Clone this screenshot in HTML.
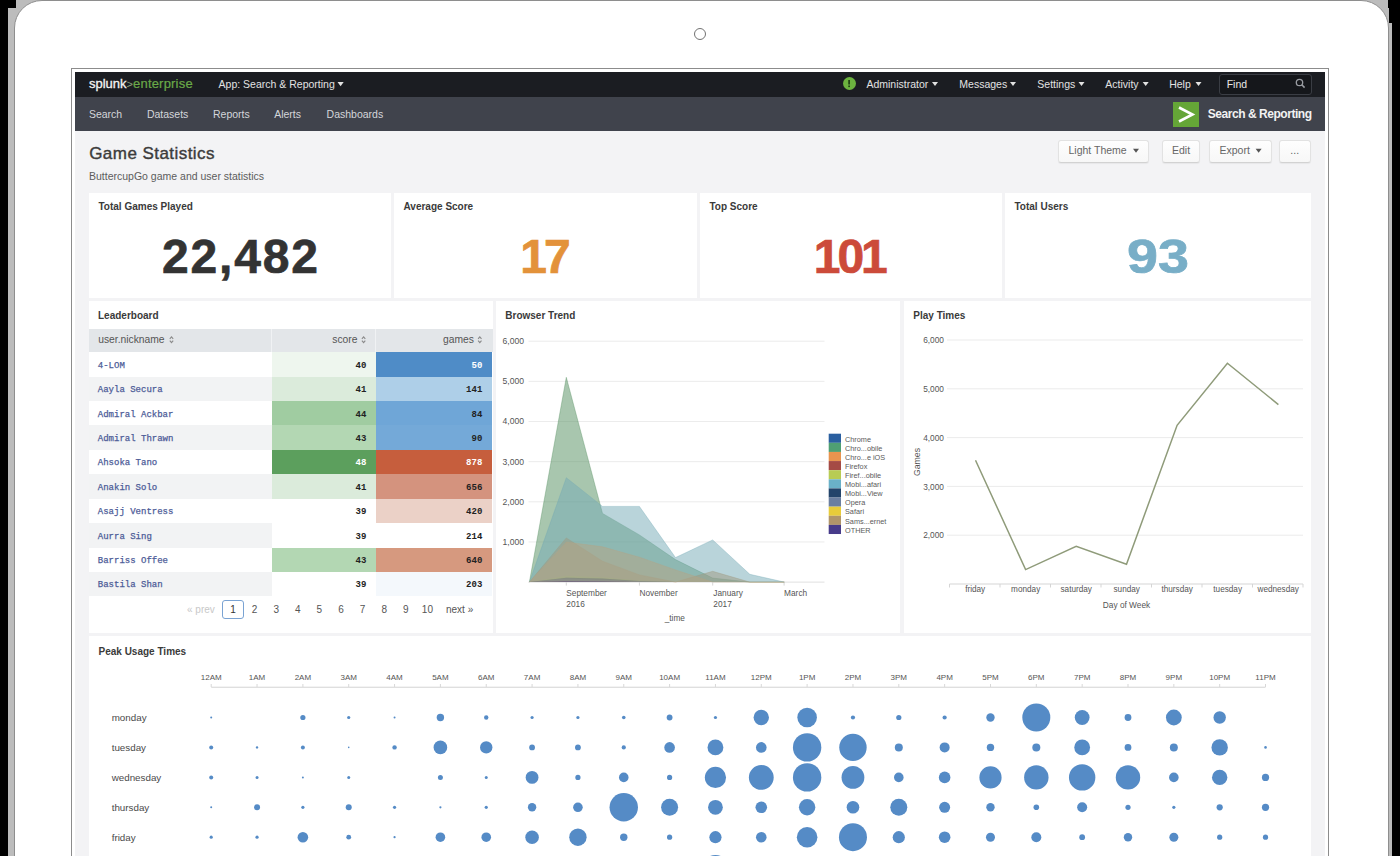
<!DOCTYPE html><html><head><meta charset="utf-8"><style>
html,body{margin:0;padding:0;}
body{width:1400px;height:856px;overflow:hidden;background:#000;position:relative;font-family:"Liberation Sans",sans-serif;}
.t{position:absolute;white-space:nowrap;}
.r{position:absolute;box-sizing:border-box;}
svg{position:absolute;left:0;top:0;overflow:visible;}
</style></head><body>
<div class="r" style="left:8px;top:8px;width:1384px;height:848px;background:#bcbcbc;"></div>
<div class="r" style="left:16px;top:0px;width:1372px;height:8px;background:#bcbcbc;"></div>
<div class="r" style="left:1388.5px;top:0px;width:3.5px;height:23px;background:#000;"></div>
<div class="r" style="left:13.5px;top:0px;width:1375px;height:900px;border:1.5px solid #8e8e8e;border-radius:28px;background:#fff;"></div>
<div class="r" style="left:694px;top:28px;width:12px;height:12px;border:1.5px solid #727272;border-radius:50%;"></div>
<div class="r" style="left:71px;top:68px;width:1258px;height:900px;border:1px solid #8c8c8c;background:#fff;"></div>
<div class="r" style="left:75px;top:72px;width:1250px;height:784px;background:#f3f3f5;"></div>
<div class="r" style="left:75px;top:72px;width:1250px;height:25px;background:#1b1d22;"></div>
<div class="r" style="left:75px;top:97px;width:1250px;height:34px;background:#40434c;"></div>
<div class="t" id="logo" style="top:77.00px;font-size:13px;line-height:13px;color:#333;font-weight:normal;left:89.00px;"><span style="color:#f4f4f4;-webkit-text-stroke:0.3px #f4f4f4">splunk</span><span style="color:#8aa27c;font-size:11px">&gt;</span><span style="color:#6aaa48;-webkit-text-stroke:0.2px #6aaa48;letter-spacing:0.2px">enterprise</span></div>
<div class="t" id="app" style="top:78.61px;font-size:10.5px;line-height:10.5px;color:#e2e2e2;font-weight:normal;left:218.60px;">App: Search &amp; Reporting</div>
<svg width="1" height="1"><path d="M337.5 82L343.7 82L340.6 86.2Z" fill="#e2e2e2"/></svg>
<div class="r" style="left:842.5px;top:77px;width:13px;height:13px;border-radius:50%;background:#6cb33f;"></div>
<svg><rect x="848.3" y="80" width="1.6" height="4.5" fill="#1b3a10"/><rect x="848.3" y="85.5" width="1.6" height="1.6" fill="#1b3a10"/></svg>
<div class="t" id="m_Administrator" style="top:78.61px;font-size:10.5px;line-height:10.5px;color:#e2e2e2;font-weight:normal;left:866.40px;">Administrator</div>
<svg width="1" height="1"><path d="M932 82L938 82L935.0 86Z" fill="#e2e2e2"/></svg>
<div class="t" id="m_Messages" style="top:78.61px;font-size:10.5px;line-height:10.5px;color:#e2e2e2;font-weight:normal;left:959.30px;">Messages</div>
<svg width="1" height="1"><path d="M1010 82L1016 82L1013.0 86Z" fill="#e2e2e2"/></svg>
<div class="t" id="m_Settings" style="top:78.61px;font-size:10.5px;line-height:10.5px;color:#e2e2e2;font-weight:normal;left:1037.30px;">Settings</div>
<svg width="1" height="1"><path d="M1078.5 82L1084.5 82L1081.5 86Z" fill="#e2e2e2"/></svg>
<div class="t" id="m_Activity" style="top:78.61px;font-size:10.5px;line-height:10.5px;color:#e2e2e2;font-weight:normal;left:1105.30px;">Activity</div>
<svg width="1" height="1"><path d="M1142.7 82L1148.7 82L1145.7 86Z" fill="#e2e2e2"/></svg>
<div class="t" id="m_Help" style="top:78.61px;font-size:10.5px;line-height:10.5px;color:#e2e2e2;font-weight:normal;left:1169.20px;">Help</div>
<svg width="1" height="1"><path d="M1195.5 82L1201.5 82L1198.5 86Z" fill="#e2e2e2"/></svg>
<div class="r" style="left:1219px;top:74px;width:92.5px;height:21px;border:1px solid #3a3d44;border-radius:3px;background:#15171b;"></div>
<div class="t" id="find" style="top:78.61px;font-size:10.5px;line-height:10.5px;color:#e8e8e8;font-weight:normal;left:1226.70px;">Find</div>
<svg><circle cx="1299.5" cy="82.5" r="3.2" fill="none" stroke="#9a9da3" stroke-width="1.3"/><path d="M1301.8 84.8L1304.6 87.6" stroke="#9a9da3" stroke-width="1.5"/></svg>
<div class="t" id="n_Search" style="top:108.81px;font-size:10.5px;line-height:10.5px;color:#d4d6da;font-weight:normal;left:88.90px;">Search</div>
<div class="t" id="n_Datasets" style="top:108.81px;font-size:10.5px;line-height:10.5px;color:#d4d6da;font-weight:normal;left:146.90px;">Datasets</div>
<div class="t" id="n_Reports" style="top:108.81px;font-size:10.5px;line-height:10.5px;color:#d4d6da;font-weight:normal;left:213.00px;">Reports</div>
<div class="t" id="n_Alerts" style="top:108.81px;font-size:10.5px;line-height:10.5px;color:#d4d6da;font-weight:normal;left:274.20px;">Alerts</div>
<div class="t" id="n_Dashboards" style="top:108.81px;font-size:10.5px;line-height:10.5px;color:#d4d6da;font-weight:normal;left:326.60px;">Dashboards</div>
<div class="r" style="left:1173px;top:102px;width:26px;height:25px;background:#65a637;"></div>
<svg><path d="M1179 107.5L1192.5 114.5L1179 121.5" fill="none" stroke="#fff" stroke-width="2.6"/></svg>
<div class="t" id="sr" style="top:108.14px;font-size:12px;line-height:12px;color:#f2f2f2;font-weight:bold;left:1207.70px;letter-spacing:-0.45px;">Search &amp; Reporting</div>
<div class="t" id="title" style="top:144.91px;font-size:17px;line-height:17px;color:#3c3c3c;font-weight:normal;left:89.20px;-webkit-text-stroke:0.4px #3c3c3c;letter-spacing:0.45px;">Game Statistics</div>
<div class="t" id="sub" style="top:171.11px;font-size:10.5px;line-height:10.5px;color:#5c5c5c;font-weight:normal;left:89.00px;">ButtercupGo game and user statistics</div>
<div class="r" style="left:1058px;top:140px;width:91px;height:22.5px;border:1px solid #e2e2e2;border-bottom-color:#d2d2d2;border-radius:3px;background:linear-gradient(#fefefe,#f7f7f7);box-shadow:0 1px 1px rgba(0,0,0,0.05);"></div>
<div class="t" id="b_LightTheme" style="top:144.91px;font-size:10.5px;line-height:10.5px;color:#666;font-weight:normal;left:1068.50px;">Light Theme</div>
<svg width="1" height="1"><path d="M1133 148.8L1139 148.8L1136.0 152.8Z" fill="#555"/></svg>
<div class="r" style="left:1162px;top:140px;width:38px;height:22.5px;border:1px solid #e2e2e2;border-bottom-color:#d2d2d2;border-radius:3px;background:linear-gradient(#fefefe,#f7f7f7);box-shadow:0 1px 1px rgba(0,0,0,0.05);"></div>
<div class="t" id="b_Edit" style="top:144.91px;font-size:10.5px;line-height:10.5px;color:#666;font-weight:normal;left:1181.00px;transform:translateX(-50%);">Edit</div>
<div class="r" style="left:1209px;top:140px;width:62.59999999999991px;height:22.5px;border:1px solid #e2e2e2;border-bottom-color:#d2d2d2;border-radius:3px;background:linear-gradient(#fefefe,#f7f7f7);box-shadow:0 1px 1px rgba(0,0,0,0.05);"></div>
<div class="t" id="b_Export" style="top:144.91px;font-size:10.5px;line-height:10.5px;color:#666;font-weight:normal;left:1219.50px;">Export</div>
<svg width="1" height="1"><path d="M1255.6 148.8L1261.6 148.8L1258.6 152.8Z" fill="#555"/></svg>
<div class="r" style="left:1279px;top:140px;width:31.5px;height:22.5px;border:1px solid #e2e2e2;border-bottom-color:#d2d2d2;border-radius:3px;background:linear-gradient(#fefefe,#f7f7f7);box-shadow:0 1px 1px rgba(0,0,0,0.05);"></div>
<div class="t" id="b_" style="top:144.91px;font-size:10.5px;line-height:10.5px;color:#666;font-weight:normal;left:1294.75px;transform:translateX(-50%);">...</div>
<div class="r" style="left:89px;top:193px;width:302px;height:105px;background:#fff;"></div>
<div class="t" id="sv_TotalGamesPlayed" style="top:202.03px;font-size:10px;line-height:10px;color:#3a3a3a;font-weight:bold;left:98.50px;">Total Games Played</div>
<div class="t" id="svv_TotalGamesPlayed" style="top:233.37px;font-size:48px;line-height:48px;color:#333333;font-weight:bold;left:240.00px;transform:translateX(-50%);letter-spacing:1.8px;text-indent:1.8px;-webkit-text-stroke:0.7px #333333;">22,482</div>
<div class="r" style="left:394px;top:193px;width:303px;height:105px;background:#fff;"></div>
<div class="t" id="sv_AverageScore" style="top:202.03px;font-size:10px;line-height:10px;color:#3a3a3a;font-weight:bold;left:403.50px;">Average Score</div>
<div class="t" id="svv_AverageScore" style="top:233.37px;font-size:48px;line-height:48px;color:#e3923a;font-weight:bold;left:545.50px;transform:translateX(-50%);letter-spacing:-3px;text-indent:-3px;-webkit-text-stroke:0.7px #e3923a;">17</div>
<div class="r" style="left:700px;top:193px;width:301.5px;height:105px;background:#fff;"></div>
<div class="t" id="sv_TopScore" style="top:202.03px;font-size:10px;line-height:10px;color:#3a3a3a;font-weight:bold;left:709.50px;">Top Score</div>
<div class="t" id="svv_TopScore" style="top:233.37px;font-size:48px;line-height:48px;color:#cc4b3a;font-weight:bold;left:850.75px;transform:translateX(-50%);letter-spacing:-3px;text-indent:-3px;-webkit-text-stroke:0.7px #cc4b3a;">101</div>
<div class="r" style="left:1005px;top:193px;width:306px;height:105px;background:#fff;"></div>
<div class="t" id="sv_TotalUsers" style="top:202.03px;font-size:10px;line-height:10px;color:#3a3a3a;font-weight:bold;left:1014.50px;">Total Users</div>
<div class="t" id="svv_TotalUsers" style="top:233.37px;font-size:48px;line-height:48px;color:#78aec7;font-weight:bold;left:1158.00px;transform:translateX(-50%);letter-spacing:0px;text-indent:0px;-webkit-text-stroke:0.7px #78aec7;transform:translateX(-50%) scaleX(1.16);">93</div>
<div class="r" style="left:89px;top:300.5px;width:404px;height:332.5px;background:#fff;"></div>
<div class="t" id="lb_title" style="top:310.54px;font-size:10px;line-height:10px;color:#3a3a3a;font-weight:bold;left:98.00px;">Leaderboard</div>
<div class="r" style="left:89px;top:328.5px;width:403.5px;height:23.69999999999999px;background:#e3e6e9;"></div>
<div class="r" style="left:271px;top:328.5px;width:1px;height:23.69999999999999px;background:#f0f2f4;"></div>
<div class="r" style="left:375px;top:328.5px;width:1px;height:23.69999999999999px;background:#f0f2f4;"></div>
<div class="t" id="th1" style="top:334.58px;font-size:10.3px;line-height:10.3px;color:#555;font-weight:normal;left:98.20px;">user.nickname</div>
<svg><path d="M169.8 338.8L171.5 336.8L173.2 338.8M169.8 340.59999999999997L171.5 342.59999999999997L173.2 340.59999999999997" fill="none" stroke="#8a8a8a" stroke-width="1.1"/></svg>
<div class="t" id="th2" style="top:334.58px;font-size:10.3px;line-height:10.3px;color:#555;font-weight:normal;right:1042.50px;">score</div>
<svg><path d="M361.90000000000003 338.8L363.6 336.8L365.3 338.8M361.90000000000003 340.59999999999997L363.6 342.59999999999997L365.3 340.59999999999997" fill="none" stroke="#8a8a8a" stroke-width="1.1"/></svg>
<div class="t" id="th3" style="top:334.58px;font-size:10.3px;line-height:10.3px;color:#555;font-weight:normal;right:926.00px;">games</div>
<svg><path d="M478.1 338.8L479.8 336.8L481.5 338.8M478.1 340.59999999999997L479.8 342.59999999999997L481.5 340.59999999999997" fill="none" stroke="#8a8a8a" stroke-width="1.1"/></svg>
<div class="r" style="left:89px;top:352.2px;width:182.5px;height:24.420000000000016px;background:#ffffff;"></div>
<div class="r" style="left:271.5px;top:352.2px;width:104.0px;height:24.420000000000016px;background:#eef6ee;"></div>
<div class="r" style="left:375.5px;top:352.2px;width:116.5px;height:24.420000000000016px;background:#4f8cc7;"></div>
<div class="t" id="nm0" style="top:361.70px;font-size:9px;line-height:9px;color:#4d5c98;font-weight:normal;font-family:'Liberation Mono', monospace;left:97.80px;-webkit-text-stroke:0.25px #4d5c98;">4-LOM</div>
<div class="t" id="sc0" style="top:361.70px;font-size:9px;line-height:9px;color:#222;font-weight:bold;font-family:'Liberation Mono', monospace;right:1033.70px;">40</div>
<div class="t" id="gm0" style="top:361.70px;font-size:9px;line-height:9px;color:#fff;font-weight:bold;font-family:'Liberation Mono', monospace;right:917.70px;">50</div>
<div class="r" style="left:89px;top:376.62px;width:182.5px;height:24.420000000000016px;background:#f2f3f4;"></div>
<div class="r" style="left:271.5px;top:376.62px;width:104.0px;height:24.420000000000016px;background:#dbebdb;"></div>
<div class="r" style="left:375.5px;top:376.62px;width:116.5px;height:24.420000000000016px;background:#aecfe8;"></div>
<div class="t" id="nm1" style="top:386.12px;font-size:9px;line-height:9px;color:#4d5c98;font-weight:normal;font-family:'Liberation Mono', monospace;left:97.80px;-webkit-text-stroke:0.25px #4d5c98;">Aayla Secura</div>
<div class="t" id="sc1" style="top:386.12px;font-size:9px;line-height:9px;color:#222;font-weight:bold;font-family:'Liberation Mono', monospace;right:1033.70px;">41</div>
<div class="t" id="gm1" style="top:386.12px;font-size:9px;line-height:9px;color:#222;font-weight:bold;font-family:'Liberation Mono', monospace;right:917.70px;">141</div>
<div class="r" style="left:89px;top:401.03999999999996px;width:182.5px;height:24.420000000000016px;background:#ffffff;"></div>
<div class="r" style="left:271.5px;top:401.03999999999996px;width:104.0px;height:24.420000000000016px;background:#a0cca1;"></div>
<div class="r" style="left:375.5px;top:401.03999999999996px;width:116.5px;height:24.420000000000016px;background:#6fa6d7;"></div>
<div class="t" id="nm2" style="top:410.54px;font-size:9px;line-height:9px;color:#4d5c98;font-weight:normal;font-family:'Liberation Mono', monospace;left:97.80px;-webkit-text-stroke:0.25px #4d5c98;">Admiral Ackbar</div>
<div class="t" id="sc2" style="top:410.54px;font-size:9px;line-height:9px;color:#222;font-weight:bold;font-family:'Liberation Mono', monospace;right:1033.70px;">44</div>
<div class="t" id="gm2" style="top:410.54px;font-size:9px;line-height:9px;color:#222;font-weight:bold;font-family:'Liberation Mono', monospace;right:917.70px;">84</div>
<div class="r" style="left:89px;top:425.46px;width:182.5px;height:24.420000000000016px;background:#f2f3f4;"></div>
<div class="r" style="left:271.5px;top:425.46px;width:104.0px;height:24.420000000000016px;background:#b3d7b3;"></div>
<div class="r" style="left:375.5px;top:425.46px;width:116.5px;height:24.420000000000016px;background:#74a9d8;"></div>
<div class="t" id="nm3" style="top:434.96px;font-size:9px;line-height:9px;color:#4d5c98;font-weight:normal;font-family:'Liberation Mono', monospace;left:97.80px;-webkit-text-stroke:0.25px #4d5c98;">Admiral Thrawn</div>
<div class="t" id="sc3" style="top:434.96px;font-size:9px;line-height:9px;color:#222;font-weight:bold;font-family:'Liberation Mono', monospace;right:1033.70px;">43</div>
<div class="t" id="gm3" style="top:434.96px;font-size:9px;line-height:9px;color:#222;font-weight:bold;font-family:'Liberation Mono', monospace;right:917.70px;">90</div>
<div class="r" style="left:89px;top:449.88px;width:182.5px;height:24.420000000000016px;background:#ffffff;"></div>
<div class="r" style="left:271.5px;top:449.88px;width:104.0px;height:24.420000000000016px;background:#5c9f5d;"></div>
<div class="r" style="left:375.5px;top:449.88px;width:116.5px;height:24.420000000000016px;background:#c65e3d;"></div>
<div class="t" id="nm4" style="top:459.38px;font-size:9px;line-height:9px;color:#4d5c98;font-weight:normal;font-family:'Liberation Mono', monospace;left:97.80px;-webkit-text-stroke:0.25px #4d5c98;">Ahsoka Tano</div>
<div class="t" id="sc4" style="top:459.38px;font-size:9px;line-height:9px;color:#fff;font-weight:bold;font-family:'Liberation Mono', monospace;right:1033.70px;">48</div>
<div class="t" id="gm4" style="top:459.38px;font-size:9px;line-height:9px;color:#fff;font-weight:bold;font-family:'Liberation Mono', monospace;right:917.70px;">878</div>
<div class="r" style="left:89px;top:474.3px;width:182.5px;height:24.420000000000016px;background:#f2f3f4;"></div>
<div class="r" style="left:271.5px;top:474.3px;width:104.0px;height:24.420000000000016px;background:#dbebdb;"></div>
<div class="r" style="left:375.5px;top:474.3px;width:116.5px;height:24.420000000000016px;background:#d4937e;"></div>
<div class="t" id="nm5" style="top:483.80px;font-size:9px;line-height:9px;color:#4d5c98;font-weight:normal;font-family:'Liberation Mono', monospace;left:97.80px;-webkit-text-stroke:0.25px #4d5c98;">Anakin Solo</div>
<div class="t" id="sc5" style="top:483.80px;font-size:9px;line-height:9px;color:#222;font-weight:bold;font-family:'Liberation Mono', monospace;right:1033.70px;">41</div>
<div class="t" id="gm5" style="top:483.80px;font-size:9px;line-height:9px;color:#222;font-weight:bold;font-family:'Liberation Mono', monospace;right:917.70px;">656</div>
<div class="r" style="left:89px;top:498.72px;width:182.5px;height:24.41999999999996px;background:#ffffff;"></div>
<div class="r" style="left:271.5px;top:498.72px;width:104.0px;height:24.41999999999996px;background:#ffffff;"></div>
<div class="r" style="left:375.5px;top:498.72px;width:116.5px;height:24.41999999999996px;background:#ebd1c7;"></div>
<div class="t" id="nm6" style="top:508.22px;font-size:9px;line-height:9px;color:#4d5c98;font-weight:normal;font-family:'Liberation Mono', monospace;left:97.80px;-webkit-text-stroke:0.25px #4d5c98;">Asajj Ventress</div>
<div class="t" id="sc6" style="top:508.22px;font-size:9px;line-height:9px;color:#222;font-weight:bold;font-family:'Liberation Mono', monospace;right:1033.70px;">39</div>
<div class="t" id="gm6" style="top:508.22px;font-size:9px;line-height:9px;color:#222;font-weight:bold;font-family:'Liberation Mono', monospace;right:917.70px;">420</div>
<div class="r" style="left:89px;top:523.14px;width:182.5px;height:24.41999999999996px;background:#f2f3f4;"></div>
<div class="r" style="left:271.5px;top:523.14px;width:104.0px;height:24.41999999999996px;background:#ffffff;"></div>
<div class="r" style="left:375.5px;top:523.14px;width:116.5px;height:24.41999999999996px;background:#ffffff;"></div>
<div class="t" id="nm7" style="top:532.64px;font-size:9px;line-height:9px;color:#4d5c98;font-weight:normal;font-family:'Liberation Mono', monospace;left:97.80px;-webkit-text-stroke:0.25px #4d5c98;">Aurra Sing</div>
<div class="t" id="sc7" style="top:532.64px;font-size:9px;line-height:9px;color:#222;font-weight:bold;font-family:'Liberation Mono', monospace;right:1033.70px;">39</div>
<div class="t" id="gm7" style="top:532.64px;font-size:9px;line-height:9px;color:#222;font-weight:bold;font-family:'Liberation Mono', monospace;right:917.70px;">214</div>
<div class="r" style="left:89px;top:547.56px;width:182.5px;height:24.41999999999996px;background:#ffffff;"></div>
<div class="r" style="left:271.5px;top:547.56px;width:104.0px;height:24.41999999999996px;background:#b3d7b3;"></div>
<div class="r" style="left:375.5px;top:547.56px;width:116.5px;height:24.41999999999996px;background:#d6997f;"></div>
<div class="t" id="nm8" style="top:557.06px;font-size:9px;line-height:9px;color:#4d5c98;font-weight:normal;font-family:'Liberation Mono', monospace;left:97.80px;-webkit-text-stroke:0.25px #4d5c98;">Barriss Offee</div>
<div class="t" id="sc8" style="top:557.06px;font-size:9px;line-height:9px;color:#222;font-weight:bold;font-family:'Liberation Mono', monospace;right:1033.70px;">43</div>
<div class="t" id="gm8" style="top:557.06px;font-size:9px;line-height:9px;color:#222;font-weight:bold;font-family:'Liberation Mono', monospace;right:917.70px;">640</div>
<div class="r" style="left:89px;top:571.98px;width:182.5px;height:24.41999999999996px;background:#f2f3f4;"></div>
<div class="r" style="left:271.5px;top:571.98px;width:104.0px;height:24.41999999999996px;background:#ffffff;"></div>
<div class="r" style="left:375.5px;top:571.98px;width:116.5px;height:24.41999999999996px;background:#f4f8fc;"></div>
<div class="t" id="nm9" style="top:581.48px;font-size:9px;line-height:9px;color:#4d5c98;font-weight:normal;font-family:'Liberation Mono', monospace;left:97.80px;-webkit-text-stroke:0.25px #4d5c98;">Bastila Shan</div>
<div class="t" id="sc9" style="top:581.48px;font-size:9px;line-height:9px;color:#222;font-weight:bold;font-family:'Liberation Mono', monospace;right:1033.70px;">39</div>
<div class="t" id="gm9" style="top:581.48px;font-size:9px;line-height:9px;color:#222;font-weight:bold;font-family:'Liberation Mono', monospace;right:917.70px;">203</div>
<div class="t" id="prev" style="top:604.53px;font-size:10px;line-height:10px;color:#c8c8c8;font-weight:normal;left:187.00px;">« prev</div>
<div class="r" style="left:222px;top:599.5px;width:22px;height:19.5px;border:1px solid #7aa3d3;border-radius:3px;background:#fff;"></div>
<div class="t" id="pg1" style="top:604.53px;font-size:10px;line-height:10px;color:#333;font-weight:normal;left:233.00px;transform:translateX(-50%);">1</div>
<div class="t" id="pg2" style="top:604.53px;font-size:10px;line-height:10px;color:#555;font-weight:normal;left:254.60px;transform:translateX(-50%);">2</div>
<div class="t" id="pg3" style="top:604.53px;font-size:10px;line-height:10px;color:#555;font-weight:normal;left:276.20px;transform:translateX(-50%);">3</div>
<div class="t" id="pg4" style="top:604.53px;font-size:10px;line-height:10px;color:#555;font-weight:normal;left:297.80px;transform:translateX(-50%);">4</div>
<div class="t" id="pg5" style="top:604.53px;font-size:10px;line-height:10px;color:#555;font-weight:normal;left:319.40px;transform:translateX(-50%);">5</div>
<div class="t" id="pg6" style="top:604.53px;font-size:10px;line-height:10px;color:#555;font-weight:normal;left:341.00px;transform:translateX(-50%);">6</div>
<div class="t" id="pg7" style="top:604.53px;font-size:10px;line-height:10px;color:#555;font-weight:normal;left:362.60px;transform:translateX(-50%);">7</div>
<div class="t" id="pg8" style="top:604.53px;font-size:10px;line-height:10px;color:#555;font-weight:normal;left:384.20px;transform:translateX(-50%);">8</div>
<div class="t" id="pg9" style="top:604.53px;font-size:10px;line-height:10px;color:#555;font-weight:normal;left:405.80px;transform:translateX(-50%);">9</div>
<div class="t" id="pg10" style="top:604.53px;font-size:10px;line-height:10px;color:#555;font-weight:normal;left:427.40px;transform:translateX(-50%);">10</div>
<div class="t" id="next" style="top:604.53px;font-size:10px;line-height:10px;color:#555;font-weight:normal;left:446.00px;">next »</div>
<div class="r" style="left:496px;top:300.5px;width:404px;height:332.5px;background:#fff;"></div>
<div class="t" id="bt_title" style="top:310.64px;font-size:10px;line-height:10px;color:#3a3a3a;font-weight:bold;left:505.30px;">Browser Trend</div>
<svg><rect x="528.5" y="541.45" width="296" height="1" fill="#ececec"/><rect x="528.5" y="501.30" width="296" height="1" fill="#ececec"/><rect x="528.5" y="461.15" width="296" height="1" fill="#ececec"/><rect x="528.5" y="421.00" width="296" height="1" fill="#ececec"/><rect x="528.5" y="380.85" width="296" height="1" fill="#ececec"/><rect x="528.5" y="340.70" width="296" height="1" fill="#ececec"/><rect x="528.5" y="581.60" width="296" height="1" fill="#e0e0e0"/><rect x="565.8" y="582.1" width="1" height="3.5" fill="#d8d8d8"/><rect x="638.9" y="582.1" width="1" height="3.5" fill="#d8d8d8"/><rect x="712.2" y="582.1" width="1" height="3.5" fill="#d8d8d8"/><rect x="783.6" y="582.1" width="1" height="3.5" fill="#d8d8d8"/></svg>
<div class="t" id="bty1" style="top:537.87px;font-size:8.6px;line-height:8.6px;color:#555;font-weight:normal;right:876.00px;">1,000</div>
<div class="t" id="bty2" style="top:497.72px;font-size:8.6px;line-height:8.6px;color:#555;font-weight:normal;right:876.00px;">2,000</div>
<div class="t" id="bty3" style="top:457.57px;font-size:8.6px;line-height:8.6px;color:#555;font-weight:normal;right:876.00px;">3,000</div>
<div class="t" id="bty4" style="top:417.42px;font-size:8.6px;line-height:8.6px;color:#555;font-weight:normal;right:876.00px;">4,000</div>
<div class="t" id="bty5" style="top:377.27px;font-size:8.6px;line-height:8.6px;color:#555;font-weight:normal;right:876.00px;">5,000</div>
<div class="t" id="bty6" style="top:337.12px;font-size:8.6px;line-height:8.6px;color:#555;font-weight:normal;right:876.00px;">6,000</div>
<svg><polygon points="529.4,582.1 529.4,582.1 566.3,576.9 602.5,578.1 639.4,580.5 675.5,582.1 712.7,582.1 749.8,582.1 784.3,582.1 784.3,582.1" fill="#2a5fa0" fill-opacity="0.5"/><polygon points="529.4,582.1 529.4,582.1 566.3,377.3 602.5,513.4 639.4,534.9 675.5,559.6 712.7,578.1 749.8,582.1 784.3,582.1 784.3,582.1" fill="#518d5d" fill-opacity="0.5"/><polyline points="529.4,582.1 566.3,377.3 602.5,513.4 639.4,534.9 675.5,559.6 712.7,578.1 749.8,582.1 784.3,582.1" fill="none" stroke="#518d5d" stroke-opacity="0.35" stroke-width="1"/><polygon points="529.4,582.1 529.4,582.1 566.3,537.9 602.5,561.2 639.4,574.9 675.5,582.1 712.7,571.3 749.8,582.1 784.3,582.1 784.3,582.1" fill="#c9874a" fill-opacity="0.5"/><polyline points="529.4,582.1 566.3,537.9 602.5,561.2 639.4,574.9 675.5,582.1 712.7,571.3 749.8,582.1 784.3,582.1" fill="none" stroke="#c9874a" stroke-opacity="0.35" stroke-width="1"/><polygon points="529.4,582.1 529.4,582.1 566.3,580.5 602.5,580.9 639.4,581.7 675.5,582.1 712.7,582.1 749.8,582.1 784.3,582.1 784.3,582.1" fill="#a54b45" fill-opacity="0.5"/><polygon points="529.4,582.1 529.4,582.1 566.3,575.7 602.5,577.3 639.4,580.5 675.5,582.1 712.7,582.1 749.8,582.1 784.3,582.1 784.3,582.1" fill="#b8cc54" fill-opacity="0.5"/><polygon points="529.4,582.1 529.4,582.1 566.3,477.7 602.5,506.4 639.4,506.4 675.5,557.6 712.7,539.9 749.8,574.3 784.3,582.1 784.3,582.1" fill="#74a9b5" fill-opacity="0.5"/><polyline points="529.4,582.1 566.3,477.7 602.5,506.4 639.4,506.4 675.5,557.6 712.7,539.9 749.8,574.3 784.3,582.1" fill="none" stroke="#74a9b5" stroke-opacity="0.35" stroke-width="1"/><polygon points="529.4,582.1 529.4,582.1 566.3,577.7 602.5,578.5 639.4,580.9 675.5,582.1 712.7,582.1 749.8,582.1 784.3,582.1 784.3,582.1" fill="#23446a" fill-opacity="0.5"/><polygon points="529.4,582.1 529.4,582.1 566.3,578.5 602.5,579.7 639.4,581.3 675.5,582.1 712.7,582.1 749.8,582.1 784.3,582.1 784.3,582.1" fill="#6b7fa0" fill-opacity="0.5"/><polygon points="529.4,582.1 529.4,582.1 566.3,581.3 602.5,581.5 639.4,581.9 675.5,582.1 712.7,582.1 749.8,582.1 784.3,582.1 784.3,582.1" fill="#e8cc3a" fill-opacity="0.5"/><polygon points="529.4,582.1 529.4,582.1 566.3,542.0 602.5,546.8 639.4,557.2 675.5,569.9 712.7,582.1 749.8,582.1 784.3,582.1 784.3,582.1" fill="#b6a483" fill-opacity="0.5"/><polyline points="529.4,582.1 566.3,542.0 602.5,546.8 639.4,557.2 675.5,569.9 712.7,582.1 749.8,582.1 784.3,582.1" fill="none" stroke="#b6a483" stroke-opacity="0.35" stroke-width="1"/><polygon points="529.4,582.1 529.4,582.1 566.3,580.9 602.5,581.3 639.4,582.1 675.5,582.1 712.7,582.1 749.8,582.1 784.3,582.1 784.3,582.1" fill="#473b8a" fill-opacity="0.5"/></svg>
<svg><rect x="828.7" y="433.70" width="12.3" height="9.12" fill="#2a5fa0"/><rect x="828.7" y="442.82" width="12.3" height="9.12" fill="#4f9f73"/><rect x="828.7" y="451.94" width="12.3" height="9.12" fill="#e8944f"/><rect x="828.7" y="461.06" width="12.3" height="9.12" fill="#a54b45"/><rect x="828.7" y="470.18" width="12.3" height="9.12" fill="#b8cc54"/><rect x="828.7" y="479.30" width="12.3" height="9.12" fill="#6ab1c8"/><rect x="828.7" y="488.42" width="12.3" height="9.12" fill="#23446a"/><rect x="828.7" y="497.54" width="12.3" height="9.12" fill="#6b7fa0"/><rect x="828.7" y="506.66" width="12.3" height="9.12" fill="#e8cc3a"/><rect x="828.7" y="515.78" width="12.3" height="9.12" fill="#b0956a"/><rect x="828.7" y="524.90" width="12.3" height="9.12" fill="#473b8a"/></svg>
<div class="t" id="lg0" style="top:435.52px;font-size:7.3px;line-height:7.3px;color:#5a5a5a;font-weight:normal;left:845.00px;">Chrome</div>
<div class="t" id="lg1" style="top:444.64px;font-size:7.3px;line-height:7.3px;color:#5a5a5a;font-weight:normal;left:845.00px;">Chro...obile</div>
<div class="t" id="lg2" style="top:453.76px;font-size:7.3px;line-height:7.3px;color:#5a5a5a;font-weight:normal;left:845.00px;">Chro...e iOS</div>
<div class="t" id="lg3" style="top:462.88px;font-size:7.3px;line-height:7.3px;color:#5a5a5a;font-weight:normal;left:845.00px;">Firefox</div>
<div class="t" id="lg4" style="top:472.00px;font-size:7.3px;line-height:7.3px;color:#5a5a5a;font-weight:normal;left:845.00px;">Firef...obile</div>
<div class="t" id="lg5" style="top:481.12px;font-size:7.3px;line-height:7.3px;color:#5a5a5a;font-weight:normal;left:845.00px;">Mobi...afari</div>
<div class="t" id="lg6" style="top:490.24px;font-size:7.3px;line-height:7.3px;color:#5a5a5a;font-weight:normal;left:845.00px;">Mobi...View</div>
<div class="t" id="lg7" style="top:499.36px;font-size:7.3px;line-height:7.3px;color:#5a5a5a;font-weight:normal;left:845.00px;">Opera</div>
<div class="t" id="lg8" style="top:508.48px;font-size:7.3px;line-height:7.3px;color:#5a5a5a;font-weight:normal;left:845.00px;">Safari</div>
<div class="t" id="lg9" style="top:517.60px;font-size:7.3px;line-height:7.3px;color:#5a5a5a;font-weight:normal;left:845.00px;">Sams...ernet</div>
<div class="t" id="lg10" style="top:526.72px;font-size:7.3px;line-height:7.3px;color:#5a5a5a;font-weight:normal;left:845.00px;">OTHER</div>
<div class="t" id="xl_sep" style="top:589.07px;font-size:8.3px;line-height:8.3px;color:#555;font-weight:normal;left:566.30px;">September</div>
<div class="t" id="xl_2016" style="top:599.87px;font-size:8.3px;line-height:8.3px;color:#555;font-weight:normal;left:566.30px;">2016</div>
<div class="t" id="xl_nov" style="top:589.07px;font-size:8.3px;line-height:8.3px;color:#555;font-weight:normal;left:639.40px;">November</div>
<div class="t" id="xl_jan" style="top:589.07px;font-size:8.3px;line-height:8.3px;color:#555;font-weight:normal;left:713.30px;">January</div>
<div class="t" id="xl_2017" style="top:599.87px;font-size:8.3px;line-height:8.3px;color:#555;font-weight:normal;left:713.30px;">2017</div>
<div class="t" id="xl_mar" style="top:589.07px;font-size:8.3px;line-height:8.3px;color:#555;font-weight:normal;left:784.10px;">March</div>
<div class="t" id="xl_time" style="top:613.57px;font-size:8.3px;line-height:8.3px;color:#555;font-weight:normal;left:674.80px;transform:translateX(-50%);">_time</div>
<div class="r" style="left:903.5px;top:300.5px;width:407.5px;height:332.5px;background:#fff;"></div>
<div class="t" id="pt_title" style="top:310.64px;font-size:10px;line-height:10px;color:#3a3a3a;font-weight:bold;left:913.30px;">Play Times</div>
<svg><rect x="947" y="534.70" width="356" height="1" fill="#ececec"/><rect x="947" y="485.90" width="356" height="1" fill="#ececec"/><rect x="947" y="437.10" width="356" height="1" fill="#ececec"/><rect x="947" y="388.30" width="356" height="1" fill="#ececec"/><rect x="947" y="339.50" width="356" height="1" fill="#ececec"/><rect x="949.5" y="583.50" width="353.5" height="1" fill="#d5d5d5"/><rect x="949.00" y="584.00" width="1" height="3.5" fill="#d5d5d5"/><rect x="999.50" y="584.00" width="1" height="3.5" fill="#d5d5d5"/><rect x="1050.00" y="584.00" width="1" height="3.5" fill="#d5d5d5"/><rect x="1100.50" y="584.00" width="1" height="3.5" fill="#d5d5d5"/><rect x="1151.00" y="584.00" width="1" height="3.5" fill="#d5d5d5"/><rect x="1201.50" y="584.00" width="1" height="3.5" fill="#d5d5d5"/><rect x="1252.00" y="584.00" width="1" height="3.5" fill="#d5d5d5"/><rect x="1302.50" y="584.00" width="1" height="3.5" fill="#d5d5d5"/><polyline points="975.5,460.2 1025.6,569.6 1076.2,546.3 1126.5,564.2 1177.1,425.3 1227.4,363.2 1278.4,404.6" fill="none" stroke="#8f9b7a" stroke-width="1.5" stroke-linejoin="miter"/></svg>
<div class="t" id="pty1" style="top:531.37px;font-size:8.3px;line-height:8.3px;color:#555;font-weight:normal;right:456.10px;">2,000</div>
<div class="t" id="pty2" style="top:482.57px;font-size:8.3px;line-height:8.3px;color:#555;font-weight:normal;right:456.10px;">3,000</div>
<div class="t" id="pty3" style="top:433.77px;font-size:8.3px;line-height:8.3px;color:#555;font-weight:normal;right:456.10px;">4,000</div>
<div class="t" id="pty4" style="top:384.97px;font-size:8.3px;line-height:8.3px;color:#555;font-weight:normal;right:456.10px;">5,000</div>
<div class="t" id="pty5" style="top:336.17px;font-size:8.3px;line-height:8.3px;color:#555;font-weight:normal;right:456.10px;">6,000</div>
<div class="t" id="ptx0" style="top:586.36px;font-size:8.2px;line-height:8.2px;color:#555;font-weight:normal;left:975.20px;transform:translateX(-50%);">friday</div>
<div class="t" id="ptx1" style="top:586.36px;font-size:8.2px;line-height:8.2px;color:#555;font-weight:normal;left:1025.70px;transform:translateX(-50%);">monday</div>
<div class="t" id="ptx2" style="top:586.36px;font-size:8.2px;line-height:8.2px;color:#555;font-weight:normal;left:1076.20px;transform:translateX(-50%);">saturday</div>
<div class="t" id="ptx3" style="top:586.36px;font-size:8.2px;line-height:8.2px;color:#555;font-weight:normal;left:1126.70px;transform:translateX(-50%);">sunday</div>
<div class="t" id="ptx4" style="top:586.36px;font-size:8.2px;line-height:8.2px;color:#555;font-weight:normal;left:1177.20px;transform:translateX(-50%);">thursday</div>
<div class="t" id="ptx5" style="top:586.36px;font-size:8.2px;line-height:8.2px;color:#555;font-weight:normal;left:1227.70px;transform:translateX(-50%);">tuesday</div>
<div class="t" id="ptx6" style="top:586.36px;font-size:8.2px;line-height:8.2px;color:#555;font-weight:normal;left:1278.20px;transform:translateX(-50%);">wednesday</div>
<div class="t" id="pt_xt" style="top:600.97px;font-size:8.3px;line-height:8.3px;color:#555;font-weight:normal;left:1126.50px;transform:translateX(-50%);">Day of Week</div>
<div class="t" id="pt_yt" style="left:916.8px;top:462px;font-size:8.7px;line-height:8.7px;color:#555;transform:translate(-50%,-50%) rotate(-90deg);">Games</div>
<div class="r" style="left:89px;top:636px;width:1222px;height:224px;background:#fff;"></div>
<div class="t" id="pu_title" style="top:646.63px;font-size:10px;line-height:10px;color:#3a3a3a;font-weight:bold;left:98.50px;">Peak Usage Times</div>
<div class="t" id="hr0" style="top:673.53px;font-size:8px;line-height:8px;color:#555;font-weight:normal;left:211.20px;transform:translateX(-50%);">12AM</div>
<div class="t" id="hr1" style="top:673.53px;font-size:8px;line-height:8px;color:#555;font-weight:normal;left:257.04px;transform:translateX(-50%);">1AM</div>
<div class="t" id="hr2" style="top:673.53px;font-size:8px;line-height:8px;color:#555;font-weight:normal;left:302.88px;transform:translateX(-50%);">2AM</div>
<div class="t" id="hr3" style="top:673.53px;font-size:8px;line-height:8px;color:#555;font-weight:normal;left:348.72px;transform:translateX(-50%);">3AM</div>
<div class="t" id="hr4" style="top:673.53px;font-size:8px;line-height:8px;color:#555;font-weight:normal;left:394.56px;transform:translateX(-50%);">4AM</div>
<div class="t" id="hr5" style="top:673.53px;font-size:8px;line-height:8px;color:#555;font-weight:normal;left:440.40px;transform:translateX(-50%);">5AM</div>
<div class="t" id="hr6" style="top:673.53px;font-size:8px;line-height:8px;color:#555;font-weight:normal;left:486.24px;transform:translateX(-50%);">6AM</div>
<div class="t" id="hr7" style="top:673.53px;font-size:8px;line-height:8px;color:#555;font-weight:normal;left:532.08px;transform:translateX(-50%);">7AM</div>
<div class="t" id="hr8" style="top:673.53px;font-size:8px;line-height:8px;color:#555;font-weight:normal;left:577.92px;transform:translateX(-50%);">8AM</div>
<div class="t" id="hr9" style="top:673.53px;font-size:8px;line-height:8px;color:#555;font-weight:normal;left:623.76px;transform:translateX(-50%);">9AM</div>
<div class="t" id="hr10" style="top:673.53px;font-size:8px;line-height:8px;color:#555;font-weight:normal;left:669.60px;transform:translateX(-50%);">10AM</div>
<div class="t" id="hr11" style="top:673.53px;font-size:8px;line-height:8px;color:#555;font-weight:normal;left:715.44px;transform:translateX(-50%);">11AM</div>
<div class="t" id="hr12" style="top:673.53px;font-size:8px;line-height:8px;color:#555;font-weight:normal;left:761.28px;transform:translateX(-50%);">12PM</div>
<div class="t" id="hr13" style="top:673.53px;font-size:8px;line-height:8px;color:#555;font-weight:normal;left:807.12px;transform:translateX(-50%);">1PM</div>
<div class="t" id="hr14" style="top:673.53px;font-size:8px;line-height:8px;color:#555;font-weight:normal;left:852.96px;transform:translateX(-50%);">2PM</div>
<div class="t" id="hr15" style="top:673.53px;font-size:8px;line-height:8px;color:#555;font-weight:normal;left:898.80px;transform:translateX(-50%);">3PM</div>
<div class="t" id="hr16" style="top:673.53px;font-size:8px;line-height:8px;color:#555;font-weight:normal;left:944.64px;transform:translateX(-50%);">4PM</div>
<div class="t" id="hr17" style="top:673.53px;font-size:8px;line-height:8px;color:#555;font-weight:normal;left:990.48px;transform:translateX(-50%);">5PM</div>
<div class="t" id="hr18" style="top:673.53px;font-size:8px;line-height:8px;color:#555;font-weight:normal;left:1036.32px;transform:translateX(-50%);">6PM</div>
<div class="t" id="hr19" style="top:673.53px;font-size:8px;line-height:8px;color:#555;font-weight:normal;left:1082.16px;transform:translateX(-50%);">7PM</div>
<div class="t" id="hr20" style="top:673.53px;font-size:8px;line-height:8px;color:#555;font-weight:normal;left:1128.00px;transform:translateX(-50%);">8PM</div>
<div class="t" id="hr21" style="top:673.53px;font-size:8px;line-height:8px;color:#555;font-weight:normal;left:1173.84px;transform:translateX(-50%);">9PM</div>
<div class="t" id="hr22" style="top:673.53px;font-size:8px;line-height:8px;color:#555;font-weight:normal;left:1219.68px;transform:translateX(-50%);">10PM</div>
<div class="t" id="hr23" style="top:673.53px;font-size:8px;line-height:8px;color:#555;font-weight:normal;left:1265.52px;transform:translateX(-50%);">11PM</div>
<svg><rect x="211.2" y="686.7" width="1054.3" height="1.1" fill="#d8d8d8"/><rect x="210.70" y="684" width="1" height="3" fill="#d8d8d8"/><rect x="256.54" y="684" width="1" height="3" fill="#d8d8d8"/><rect x="302.38" y="684" width="1" height="3" fill="#d8d8d8"/><rect x="348.22" y="684" width="1" height="3" fill="#d8d8d8"/><rect x="394.06" y="684" width="1" height="3" fill="#d8d8d8"/><rect x="439.90" y="684" width="1" height="3" fill="#d8d8d8"/><rect x="485.74" y="684" width="1" height="3" fill="#d8d8d8"/><rect x="531.58" y="684" width="1" height="3" fill="#d8d8d8"/><rect x="577.42" y="684" width="1" height="3" fill="#d8d8d8"/><rect x="623.26" y="684" width="1" height="3" fill="#d8d8d8"/><rect x="669.10" y="684" width="1" height="3" fill="#d8d8d8"/><rect x="714.94" y="684" width="1" height="3" fill="#d8d8d8"/><rect x="760.78" y="684" width="1" height="3" fill="#d8d8d8"/><rect x="806.62" y="684" width="1" height="3" fill="#d8d8d8"/><rect x="852.46" y="684" width="1" height="3" fill="#d8d8d8"/><rect x="898.30" y="684" width="1" height="3" fill="#d8d8d8"/><rect x="944.14" y="684" width="1" height="3" fill="#d8d8d8"/><rect x="989.98" y="684" width="1" height="3" fill="#d8d8d8"/><rect x="1035.82" y="684" width="1" height="3" fill="#d8d8d8"/><rect x="1081.66" y="684" width="1" height="3" fill="#d8d8d8"/><rect x="1127.50" y="684" width="1" height="3" fill="#d8d8d8"/><rect x="1173.34" y="684" width="1" height="3" fill="#d8d8d8"/><rect x="1219.18" y="684" width="1" height="3" fill="#d8d8d8"/><rect x="1265.02" y="684" width="1" height="3" fill="#d8d8d8"/><circle cx="211.20" cy="717.5" r="1.0" fill="#558bc6"/><circle cx="211.20" cy="747.4" r="2.0" fill="#558bc6"/><circle cx="211.20" cy="777.4" r="2.0" fill="#558bc6"/><circle cx="211.20" cy="807.3" r="1.0" fill="#558bc6"/><circle cx="211.20" cy="837.2" r="1.6" fill="#558bc6"/><circle cx="257.04" cy="747.4" r="1.2" fill="#558bc6"/><circle cx="257.04" cy="777.4" r="1.5" fill="#558bc6"/><circle cx="257.04" cy="807.3" r="3.0" fill="#558bc6"/><circle cx="257.04" cy="837.2" r="1.6" fill="#558bc6"/><circle cx="302.88" cy="717.5" r="2.6" fill="#558bc6"/><circle cx="302.88" cy="747.4" r="2.0" fill="#558bc6"/><circle cx="302.88" cy="777.4" r="1.0" fill="#558bc6"/><circle cx="302.88" cy="807.3" r="1.6" fill="#558bc6"/><circle cx="302.88" cy="837.2" r="5.3" fill="#558bc6"/><circle cx="348.72" cy="717.5" r="1.6" fill="#558bc6"/><circle cx="348.72" cy="747.4" r="0.8" fill="#558bc6"/><circle cx="348.72" cy="777.4" r="1.5" fill="#558bc6"/><circle cx="348.72" cy="807.3" r="3.0" fill="#558bc6"/><circle cx="348.72" cy="837.2" r="2.4" fill="#558bc6"/><circle cx="394.56" cy="717.5" r="1.0" fill="#558bc6"/><circle cx="394.56" cy="747.4" r="2.2" fill="#558bc6"/><circle cx="394.56" cy="807.3" r="1.6" fill="#558bc6"/><circle cx="394.56" cy="837.2" r="1.1" fill="#558bc6"/><circle cx="440.40" cy="717.5" r="3.7" fill="#558bc6"/><circle cx="440.40" cy="747.4" r="6.8" fill="#558bc6"/><circle cx="440.40" cy="777.4" r="2.5" fill="#558bc6"/><circle cx="440.40" cy="807.3" r="1.1" fill="#558bc6"/><circle cx="440.40" cy="837.2" r="4.8" fill="#558bc6"/><circle cx="486.24" cy="717.5" r="2.2" fill="#558bc6"/><circle cx="486.24" cy="747.4" r="6.2" fill="#558bc6"/><circle cx="486.24" cy="777.4" r="1.5" fill="#558bc6"/><circle cx="486.24" cy="807.3" r="1.6" fill="#558bc6"/><circle cx="486.24" cy="837.2" r="4.8" fill="#558bc6"/><circle cx="532.08" cy="717.5" r="1.6" fill="#558bc6"/><circle cx="532.08" cy="747.4" r="2.9" fill="#558bc6"/><circle cx="532.08" cy="777.4" r="6.4" fill="#558bc6"/><circle cx="532.08" cy="807.3" r="4.2" fill="#558bc6"/><circle cx="532.08" cy="837.2" r="6.8" fill="#558bc6"/><circle cx="577.92" cy="717.5" r="1.6" fill="#558bc6"/><circle cx="577.92" cy="747.4" r="2.9" fill="#558bc6"/><circle cx="577.92" cy="777.4" r="2.6" fill="#558bc6"/><circle cx="577.92" cy="807.3" r="4.8" fill="#558bc6"/><circle cx="577.92" cy="837.2" r="8.7" fill="#558bc6"/><circle cx="623.76" cy="717.5" r="1.8" fill="#558bc6"/><circle cx="623.76" cy="747.4" r="2.1" fill="#558bc6"/><circle cx="623.76" cy="777.4" r="4.8" fill="#558bc6"/><circle cx="623.76" cy="807.3" r="14.2" fill="#558bc6"/><circle cx="623.76" cy="837.2" r="3.7" fill="#558bc6"/><circle cx="669.60" cy="717.5" r="2.9" fill="#558bc6"/><circle cx="669.60" cy="747.4" r="5.3" fill="#558bc6"/><circle cx="669.60" cy="777.4" r="2.6" fill="#558bc6"/><circle cx="669.60" cy="807.3" r="8.5" fill="#558bc6"/><circle cx="669.60" cy="837.2" r="2.6" fill="#558bc6"/><circle cx="715.44" cy="717.5" r="1.6" fill="#558bc6"/><circle cx="715.44" cy="747.4" r="7.9" fill="#558bc6"/><circle cx="715.44" cy="777.4" r="10.6" fill="#558bc6"/><circle cx="715.44" cy="807.3" r="7.4" fill="#558bc6"/><circle cx="715.44" cy="837.2" r="6.1" fill="#558bc6"/><circle cx="761.28" cy="717.5" r="7.7" fill="#558bc6"/><circle cx="761.28" cy="747.4" r="5.3" fill="#558bc6"/><circle cx="761.28" cy="777.4" r="12.4" fill="#558bc6"/><circle cx="761.28" cy="807.3" r="5.8" fill="#558bc6"/><circle cx="761.28" cy="837.2" r="5.3" fill="#558bc6"/><circle cx="807.12" cy="717.5" r="9.8" fill="#558bc6"/><circle cx="807.12" cy="747.4" r="14.2" fill="#558bc6"/><circle cx="807.12" cy="777.4" r="14.2" fill="#558bc6"/><circle cx="807.12" cy="807.3" r="8.2" fill="#558bc6"/><circle cx="807.12" cy="837.2" r="10.3" fill="#558bc6"/><circle cx="852.96" cy="717.5" r="2.1" fill="#558bc6"/><circle cx="852.96" cy="747.4" r="13.7" fill="#558bc6"/><circle cx="852.96" cy="777.4" r="11.4" fill="#558bc6"/><circle cx="852.96" cy="807.3" r="6.3" fill="#558bc6"/><circle cx="852.96" cy="837.2" r="14.0" fill="#558bc6"/><circle cx="898.80" cy="717.5" r="2.6" fill="#558bc6"/><circle cx="898.80" cy="747.4" r="4.0" fill="#558bc6"/><circle cx="898.80" cy="777.4" r="4.8" fill="#558bc6"/><circle cx="898.80" cy="807.3" r="8.5" fill="#558bc6"/><circle cx="898.80" cy="837.2" r="6.1" fill="#558bc6"/><circle cx="944.64" cy="717.5" r="2.1" fill="#558bc6"/><circle cx="944.64" cy="747.4" r="5.0" fill="#558bc6"/><circle cx="944.64" cy="777.4" r="5.8" fill="#558bc6"/><circle cx="944.64" cy="807.3" r="5.5" fill="#558bc6"/><circle cx="944.64" cy="837.2" r="5.8" fill="#558bc6"/><circle cx="990.48" cy="717.5" r="4.2" fill="#558bc6"/><circle cx="990.48" cy="747.4" r="3.7" fill="#558bc6"/><circle cx="990.48" cy="777.4" r="11.1" fill="#558bc6"/><circle cx="990.48" cy="807.3" r="4.2" fill="#558bc6"/><circle cx="990.48" cy="837.2" r="4.5" fill="#558bc6"/><circle cx="1036.32" cy="717.5" r="14.0" fill="#558bc6"/><circle cx="1036.32" cy="747.4" r="4.0" fill="#558bc6"/><circle cx="1036.32" cy="777.4" r="12.2" fill="#558bc6"/><circle cx="1036.32" cy="807.3" r="2.8" fill="#558bc6"/><circle cx="1036.32" cy="837.2" r="5.0" fill="#558bc6"/><circle cx="1082.16" cy="717.5" r="7.4" fill="#558bc6"/><circle cx="1082.16" cy="747.4" r="7.9" fill="#558bc6"/><circle cx="1082.16" cy="777.4" r="13.2" fill="#558bc6"/><circle cx="1082.16" cy="807.3" r="5.0" fill="#558bc6"/><circle cx="1082.16" cy="837.2" r="2.9" fill="#558bc6"/><circle cx="1128.00" cy="717.5" r="3.4" fill="#558bc6"/><circle cx="1128.00" cy="747.4" r="3.4" fill="#558bc6"/><circle cx="1128.00" cy="777.4" r="12.2" fill="#558bc6"/><circle cx="1128.00" cy="807.3" r="2.6" fill="#558bc6"/><circle cx="1128.00" cy="837.2" r="4.2" fill="#558bc6"/><circle cx="1173.84" cy="717.5" r="7.9" fill="#558bc6"/><circle cx="1173.84" cy="747.4" r="4.0" fill="#558bc6"/><circle cx="1173.84" cy="777.4" r="4.8" fill="#558bc6"/><circle cx="1173.84" cy="807.3" r="1.6" fill="#558bc6"/><circle cx="1173.84" cy="837.2" r="4.5" fill="#558bc6"/><circle cx="1219.68" cy="717.5" r="6.2" fill="#558bc6"/><circle cx="1219.68" cy="747.4" r="8.2" fill="#558bc6"/><circle cx="1219.68" cy="777.4" r="7.7" fill="#558bc6"/><circle cx="1219.68" cy="807.3" r="3.1" fill="#558bc6"/><circle cx="1219.68" cy="837.2" r="2.6" fill="#558bc6"/><circle cx="1265.52" cy="747.4" r="1.3" fill="#558bc6"/><circle cx="1265.52" cy="777.4" r="3.6" fill="#558bc6"/><circle cx="1265.52" cy="807.3" r="3.6" fill="#558bc6"/><circle cx="1265.52" cy="837.2" r="2.6" fill="#558bc6"/><circle cx="715.44" cy="869" r="14" fill="#558bc6"/></svg>
<div class="t" id="day0" style="top:713.00px;font-size:9.8px;line-height:9.8px;color:#4a4a4a;font-weight:normal;left:111.70px;">monday</div>
<div class="t" id="day1" style="top:742.90px;font-size:9.8px;line-height:9.8px;color:#4a4a4a;font-weight:normal;left:111.70px;">tuesday</div>
<div class="t" id="day2" style="top:772.90px;font-size:9.8px;line-height:9.8px;color:#4a4a4a;font-weight:normal;left:111.70px;">wednesday</div>
<div class="t" id="day3" style="top:802.80px;font-size:9.8px;line-height:9.8px;color:#4a4a4a;font-weight:normal;left:111.70px;">thursday</div>
<div class="t" id="day4" style="top:832.70px;font-size:9.8px;line-height:9.8px;color:#4a4a4a;font-weight:normal;left:111.70px;">friday</div>
</body></html>
